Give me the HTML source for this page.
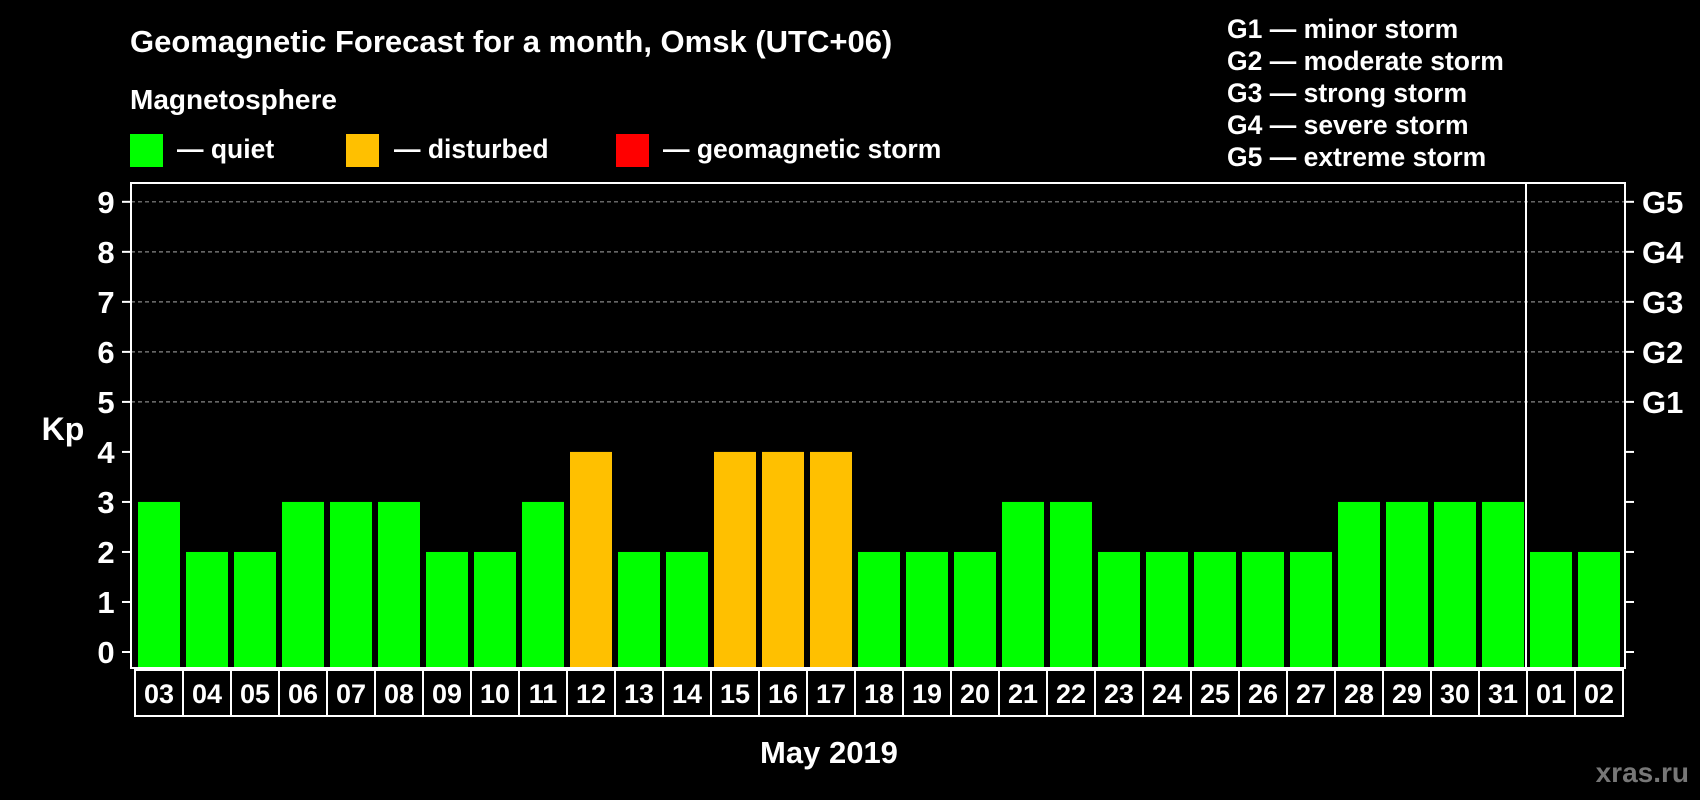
<!DOCTYPE html>
<html><head><meta charset="utf-8"><style>
body{margin:0;background:#000;width:1700px;height:800px;overflow:hidden}
svg{display:block}
text{font-family:"Liberation Sans",Arial,sans-serif;font-weight:bold;fill:#fff}
</style></head><body>
<svg id="c" width="1700" height="800">
<text x="130" y="52" font-size="31">Geomagnetic Forecast for a month, Omsk (UTC+06)</text>
<text x="130" y="109" font-size="28">Magnetosphere</text>
<rect x="130" y="134" width="33" height="33" fill="#00ff00"/>
<text x="177" y="158" font-size="26.5">— quiet</text>
<rect x="346" y="134" width="33" height="33" fill="#ffc000"/>
<text x="394" y="158" font-size="26.5">— disturbed</text>
<rect x="616" y="134" width="33" height="33" fill="#ff0000"/>
<text x="663" y="158" font-size="26.5">— geomagnetic storm</text>
<g font-size="26.5">
<text x="1227" y="38">G1 — minor storm</text>
<text x="1227" y="70">G2 — moderate storm</text>
<text x="1227" y="102">G3 — strong storm</text>
<text x="1227" y="134">G4 — severe storm</text>
<text x="1227" y="166">G5 — extreme storm</text>
</g>
<text x="63" y="440" font-size="32" text-anchor="middle">Kp</text>
<text x="829" y="763" font-size="31" text-anchor="middle">May 2019</text>
<text x="1689" y="782" font-size="28" text-anchor="end" style="fill:#777">xras.ru</text>
<g id="plot"></g>
</svg>
<script>
const days=["03","04","05","06","07","08","09","10","11","12","13","14","15","16","17","18","19","20","21","22","23","24","25","26","27","28","29","30","31","01","02"];
const kp=[3,2,2,3,3,3,2,2,3,4,2,2,4,4,4,2,2,2,3,3,2,2,2,2,2,3,3,3,3,2,2];
const yTicks=[0,1,2,3,4,5,6,7,8,9];
const gLabels=["G1","G2","G3","G4","G5"];
const NS="http://www.w3.org/2000/svg";
const g=document.getElementById('plot');
const L=131,R=1625,T=183,B=668,x0=135,pitch=48;
const y=v=>652-v*50.02;
const x=i=>x0+i*pitch;
function mk(t,a){const e=document.createElementNS(NS,t);for(const k in a)e.setAttribute(k,a[k]);g.appendChild(e);return e;}
yTicks.forEach(v=>{
  if(v>=5){const l=mk('line',{x1:L,x2:R,y1:y(v),y2:y(v),stroke:'#888','stroke-width':1.2,'stroke-dasharray':'4 3'});
  
  }
  const t1=mk('line',{x1:122,x2:L,y1:y(v),y2:y(v),stroke:'#fff','stroke-width':2});
  
  
  const t2=mk('line',{x1:R,x2:1634,y1:y(v),y2:y(v),stroke:'#fff','stroke-width':2});
  
  
  const tl=mk('text',{x:106,y:y(v)+11,'font-size':31,'text-anchor':'middle'});tl.textContent=v;
  
  
});
gLabels.forEach((s,i)=>{
  const t=mk('text',{x:1642,y:y(5+i)+11,'font-size':31});t.textContent=s;
  
  
});
kp.forEach((v,i)=>{
  const c=v>=5?'#ff0000':v>=4?'#ffc000':'#00ff00';
  const b=mk('rect',{x:x(i)+3,y:y(v),width:42,height:B-y(v),fill:c});
  
  
  const bx=mk('rect',{x:x(i),y:670,width:pitch,height:46,fill:'none',stroke:'#fff','stroke-width':2});
  
  
  const t=mk('text',{x:x(i)+pitch/2,y:703,'font-size':27,'text-anchor':'middle'});t.textContent=days[i];
  
  
});
const fr=mk('rect',{x:L,y:T,width:R-L,height:B-T,fill:'none',stroke:'#fff','stroke-width':2});


const sep=mk('line',{x1:x(29)-1,x2:x(29)-1,y1:T,y2:B,stroke:'#fff','stroke-width':2});


</script>
</body></html>
